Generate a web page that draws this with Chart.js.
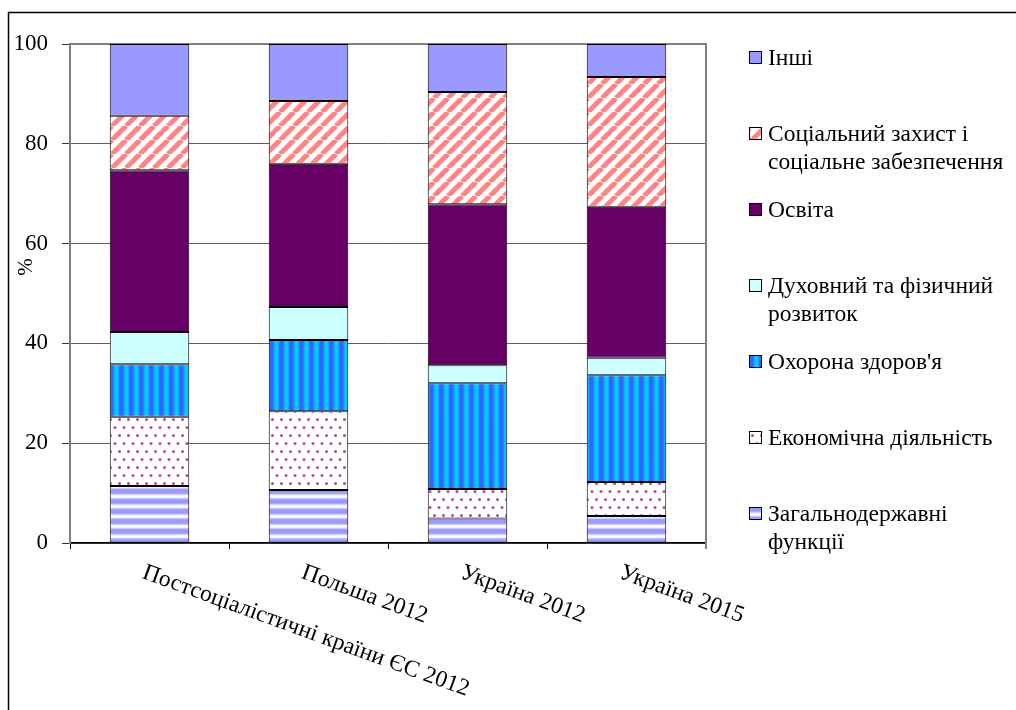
<!DOCTYPE html>
<html lang="uk">
<head>
<meta charset="utf-8">
<title>Структура видатків</title>
<script src="https://cdn.jsdelivr.net/npm/chart.js@4.4.1/dist/chart.umd.min.js"></script>
<style>
    html, body { margin: 0; padding: 0; background: #fff; }
    body { width: 1016px; height: 710px; overflow: hidden; position: relative; font-family: 'Liberation Serif', 'Times New Roman', serif; }
    #chart { position: absolute; left: 0; top: 0; }
    .legend-item { position: absolute; left: 749px; display: flex; align-items: flex-start; font-size: 23.5px; line-height: 28px; color: #000; white-space: pre-line; }
    .legend-box { width: 11px; height: 11px; border: 1px solid #000; margin-top: 8px; margin-right: 6px; flex: none; display: block; }
</style>
</head>
<body>
<canvas id="chart" width="1016" height="710"></canvas>
<div id="legend"></div>
<script>
const categories = ['Постсоціалістичні країни ЄС 2012', 'Польша 2012', 'Україна 2012', 'Україна 2015'];
const seriesNames = [
    'Загальнодержавні\nфункції',
    'Економічна діяльність',
    'Охорона здоров\'я',
    'Духовний та фізичний\nрозвиток',
    'Освіта',
    'Соціальний захист і\nсоціальне забезпечення',
    'Інші',
];
const generalFunctions = [11.4, 10.6, 4.9, 5.4];
const economy = [13.9, 15.8, 5.9, 6.8];
const health = [10.5, 14.3, 21.2, 21.4];
const culture = [6.5, 6.6, 3.6, 3.5];
const education = [32.4, 28.7, 32.3, 30.3];
const social = [10.9, 12.6, 22.5, 26.0];
const other = [14.4, 11.4, 9.6, 6.6];
const yTicks = [0, 20, 40, 60, 80, 100];

const FONT = "'Liberation Serif', 'Times New Roman', serif";

function makeTile(w, h, draw) {
    const c = document.createElement('canvas');
    c.width = w;
    c.height = h;
    draw(c.getContext('2d'), w, h);
    return c;
}

// horizontal lavender stripes
const hStripes = makeTile(10, 10, (g) => {
    const rows = ['#9999ff', '#9999ff', '#9999ff', '#a8a8ff', '#d0d0ff', '#f4f4ff', '#ffffff', '#f0f0ff', '#c8c8ff', '#a3a3ff'];
    rows.forEach((col, y) => { g.fillStyle = col; g.fillRect(0, y, 10, 1); });
});

// dotted white
const dots = makeTile(9, 16, (g) => {
    g.fillStyle = '#fff';
    g.fillRect(0, 0, 9, 16);
    g.fillStyle = '#b0508a';
    [[2.5, 3.5], [7, 11.5]].forEach(([x, y]) => {
        g.beginPath();
        g.arc(x, y, 1.5, 0, Math.PI * 2);
        g.fill();
    });
});

// vertical blue stripes
const vStripes = makeTile(10, 10, (g) => {
    const cols = ['#3366ff', '#3366ff', '#3366ff', '#2288ff', '#00b4ff', '#00ccff', '#00ccff', '#00ccff', '#11aaff', '#2a77ff'];
    cols.forEach((col, x) => { g.fillStyle = col; g.fillRect(x, 0, 1, 10); });
});

// diagonal salmon stripes
const diag = makeTile(14, 14, (g) => {
    g.fillStyle = '#fff';
    g.fillRect(0, 0, 14, 14);
    g.strokeStyle = '#ff8585';
    g.lineWidth = 5;
    [-14, 0, 14].forEach((x) => {
        g.beginPath();
        g.moveTo(x, 14);
        g.lineTo(x + 14, 0);
        g.stroke();
    });
});

const canvas = document.getElementById('chart');
const ctx = canvas.getContext('2d');
const pat = (tile) => ctx.createPattern(tile, 'repeat');

const fills = [pat(hStripes), pat(dots), pat(vStripes), '#ccffff', '#660066', pat(diag), '#9999ff'];
const tiles = [hStripes, dots, vStripes, null, null, diag, null];
const seriesData = [generalFunctions, economy, health, culture, education, social, other];

const frame = {
    id: 'frame',
    beforeDraw(chart) {
        const c = chart.ctx;
        c.save();
        c.strokeStyle = '#000';
        c.lineWidth = 1.5;
        c.strokeRect(8.5, 12.5, 1200, 900);
        c.restore();
    },
    beforeDatasetsDraw(chart) {
        const { ctx: c, chartArea: a } = chart;
        c.save();
        c.strokeStyle = '#808080';
        c.lineWidth = 2;
        c.beginPath();
        c.moveTo(a.left, a.top);
        c.lineTo(a.right, a.top);
        c.lineTo(a.right, a.bottom + 6);
        c.stroke();
        c.restore();
    },
    afterDraw(chart) {
        const c = chart.ctx;
        const x = chart.scales.x;
        c.save();
        c.fillStyle = '#000';
        c.font = '23.5px ' + FONT;
        c.textAlign = 'left';
        c.textBaseline = 'top';
        categories.forEach((label, i) => {
            c.save();
            c.translate(x.getPixelForTick(i) - 2, x.top + 18);
            c.rotate(20 * Math.PI / 180);
            c.fillText(label, 0, 0);
            c.restore();
        });
        c.font = '21px ' + FONT;
        c.textAlign = 'center';
        c.textBaseline = 'middle';
        c.translate(26, 267);
        c.rotate(-Math.PI / 2);
        c.fillText('%', 0, 0);
        c.restore();
    },
};

new Chart(ctx, {
    type: 'bar',
    data: {
        labels: categories,
        datasets: seriesData.map((values, i) => ({
            label: seriesNames[i],
            data: values,
            backgroundColor: fills[i],
            borderColor: '#000',
            borderWidth: 1,
            borderSkipped: false,
            barPercentage: 0.5,
            categoryPercentage: 1,
        })),
    },
    options: {
        responsive: false,
        animation: false,
        layout: {
            padding: { top: 44, right: 310, left: 0, bottom: 0 },
        },
        plugins: {
            legend: { display: false },
            tooltip: { enabled: false },
        },
        scales: {
            x: {
                stacked: true,
                afterFit(scale) { scale.height = 167; },
                ticks: { display: false },
                grid: {
                    offset: true,
                    drawOnChartArea: false,
                    tickLength: 6,
                    color: '#000',
                },
                border: { color: '#000', width: 1.5 },
            },
            y: {
                stacked: true,
                min: 0,
                max: 100,
                afterFit(scale) { scale.width = 70; },
                afterBuildTicks(scale) { scale.ticks = yTicks.map((v) => ({ value: v })); },
                ticks: {
                    color: '#000',
                    padding: 14,
                    font: { family: FONT, size: 23 },
                },
                grid: {
                    color: '#606060',
                    tickLength: 8,
                    tickColor: '#333',
                },
                border: { color: '#808080', width: 2 },
            },
        },
    },
    plugins: [frame],
});

// legend, top item = last series
const legend = document.getElementById('legend');
seriesNames.slice().reverse().forEach((name, k) => {
    const i = seriesNames.length - 1 - k;
    const item = document.createElement('div');
    item.className = 'legend-item';
    item.style.top = (57 + 76 * k - 14) + 'px';
    const box = document.createElement('canvas');
    box.className = 'legend-box';
    box.width = 11;
    box.height = 11;
    const bctx = box.getContext('2d');
    bctx.fillStyle = tiles[i] ? bctx.createPattern(tiles[i], 'repeat') : fills[i];
    bctx.fillRect(0, 0, 11, 11);
    const text = document.createElement('span');
    text.textContent = name;
    item.appendChild(box);
    item.appendChild(text);
    legend.appendChild(item);
});
</script>
</body>
</html>
